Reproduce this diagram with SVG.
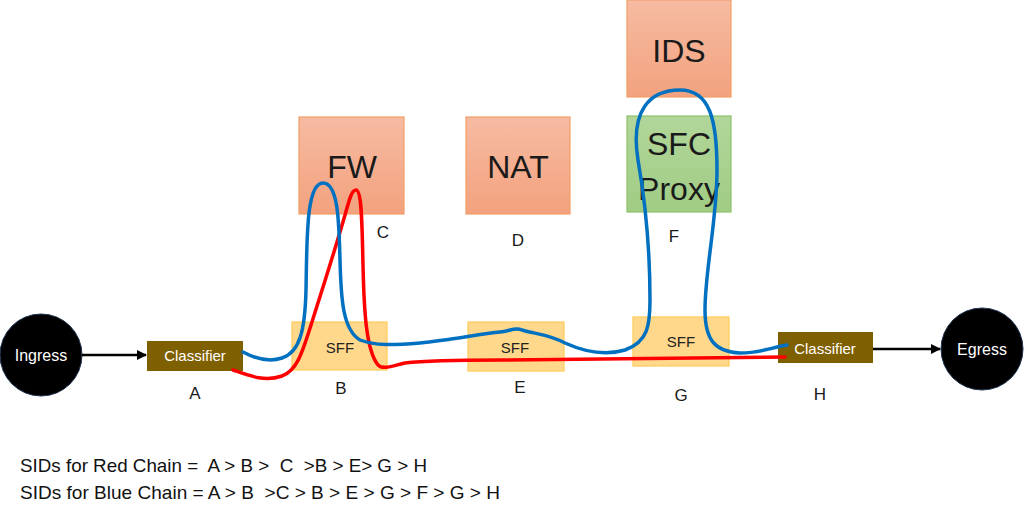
<svg xmlns="http://www.w3.org/2000/svg" width="1024" height="519" viewBox="0 0 1024 519">
<style>
text{font-family:"Liberation Sans",Arial,sans-serif;}
.big{font-size:32px;fill:#1a1a1a;text-anchor:middle;}
.lbl{font-size:17px;fill:#1a1a1a;text-anchor:middle;}
.sff{fill:#FFD88C;stroke:#FFCB55;stroke-width:1.2;}
.sfft{font-size:15px;fill:#222;text-anchor:middle;}
.cls{fill:#7F6000;}
.clst{font-size:15px;fill:#fff;text-anchor:middle;}
.vnf{fill:url(#og);stroke:#F29E66;stroke-width:1.2;}
.circ{fill:#000;stroke:#1f3550;stroke-width:1;}
.circt{font-size:16px;fill:#fff;text-anchor:middle;}
.blue{fill:none;stroke:#0070C0;stroke-width:3.5;stroke-linecap:round;}
.red{fill:none;stroke:#FF0000;stroke-width:3.5;stroke-linecap:round;}
.arr{stroke:#000;stroke-width:2.5;fill:none;}
.foot{font-size:19px;fill:#111;white-space:pre;}
</style>
<defs>
<linearGradient id="og" x1="0" y1="0" x2="0" y2="1"><stop offset="0" stop-color="#F6BBA2"/><stop offset="1" stop-color="#F3A27E"/></linearGradient>
<linearGradient id="gg" x1="0" y1="0" x2="0" y2="1"><stop offset="0" stop-color="#B2D69A"/><stop offset="1" stop-color="#A0CC84"/></linearGradient>
<marker id="ah" markerWidth="10" markerHeight="10" refX="9" refY="5" orient="auto" markerUnits="userSpaceOnUse"><path d="M0,0 L10,5 L0,10 z" fill="#000"/></marker>
</defs>
<rect width="1024" height="519" fill="#fff"/>
<g id="ingress"><circle class="circ" cx="41" cy="355" r="41"/><text class="circt" x="41" y="361">Ingress</text></g>
<g id="egress"><circle class="circ" cx="982" cy="349" r="41"/><text class="circt" x="982" y="355">Egress</text></g>
<g id="classifierA"><rect class="cls" x="147" y="341" width="96" height="30"/><text class="clst" x="195" y="361">Classifier</text><text class="lbl" x="195" y="399">A</text></g>
<g id="sffB"><rect class="sff" x="292" y="322" width="95" height="48"/><text class="sfft" x="340" y="353">SFF</text><text class="lbl" x="341" y="394">B</text></g>
<g id="fwC"><rect class="vnf" x="299" y="117" width="105" height="97"/><text class="big" x="352" y="178">FW</text><text class="lbl" x="383" y="238">C</text></g>
<g id="natD"><rect class="vnf" x="466" y="117" width="104" height="97"/><text class="big" x="518" y="178">NAT</text><text class="lbl" x="518" y="246">D</text></g>
<g id="sffE"><rect class="sff" x="468" y="322" width="96" height="49"/><text class="sfft" x="515" y="353">SFF</text><text class="lbl" x="520" y="393">E</text></g>
<g id="ids"><rect class="vnf" x="627" y="0" width="104" height="97"/><text class="big" x="679" y="62">IDS</text></g>
<g id="proxyF"><rect x="627" y="116" width="104" height="96" fill="url(#gg)" stroke="#8DC26B" stroke-width="1.2"/><text class="big" x="679" y="155">SFC</text><text class="big" x="679" y="200">Proxy</text><text class="lbl" x="674" y="242">F</text></g>
<g id="sffG"><rect class="sff" x="633" y="317" width="96" height="49"/><text class="sfft" x="681" y="347">SFF</text><text class="lbl" x="681" y="401">G</text></g>
<g id="classifierH"><rect class="cls" x="778" y="332" width="95" height="31"/><text class="clst" x="825" y="354">Classifier</text><text class="lbl" x="820" y="400">H</text></g>
<g id="connectors">
<line class="arr" x1="82" y1="355" x2="146" y2="355" marker-end="url(#ah)"/>
<line class="arr" x1="873" y1="349" x2="940" y2="349" marker-end="url(#ah)"/>
<path class="red" d="M233,370 C250,376 265,382 282,376 C298,370 303,350 312,322 C322,290 335,250 345,215 C350,197 352,190 356,190 C362,190 362,225 363,265 C364,310 366,350 378,365 C383,370 392,366 405,363 C430,360 460,360 500,360 L785,357"/>
<path class="blue" d="M243,352 C256,359 270,362 282,358 C300,352 305,330 306,290 C307,240 306,183 323,183 C338,183 339,220 340,260 C341,300 343,330 360,340 C375,346 395,345 420,343 C450,340 480,334 500,332 C510,331 515,327 522,330 C535,334 548,334 565,343 C585,352 605,356 625,350 C648,342 650,325 650,300 C650,250 645,200 638,160 C630,110 650,90 680,90 C710,90 717,120 717,170 C717,220 705,270 705,310 C705,340 715,352 740,353 C760,353 770,348 787,345"/>
</g>
<text class="foot" x="20" y="472" textLength="407" lengthAdjust="spacingAndGlyphs">SIDs for Red Chain =  A &gt; B &gt;  C  &gt;B &gt; E&gt; G &gt; H</text>
<text class="foot" x="20" y="499" textLength="480" lengthAdjust="spacingAndGlyphs">SIDs for Blue Chain = A &gt; B  &gt;C &gt; B &gt; E &gt; G &gt; F &gt; G &gt; H</text>
</svg>
